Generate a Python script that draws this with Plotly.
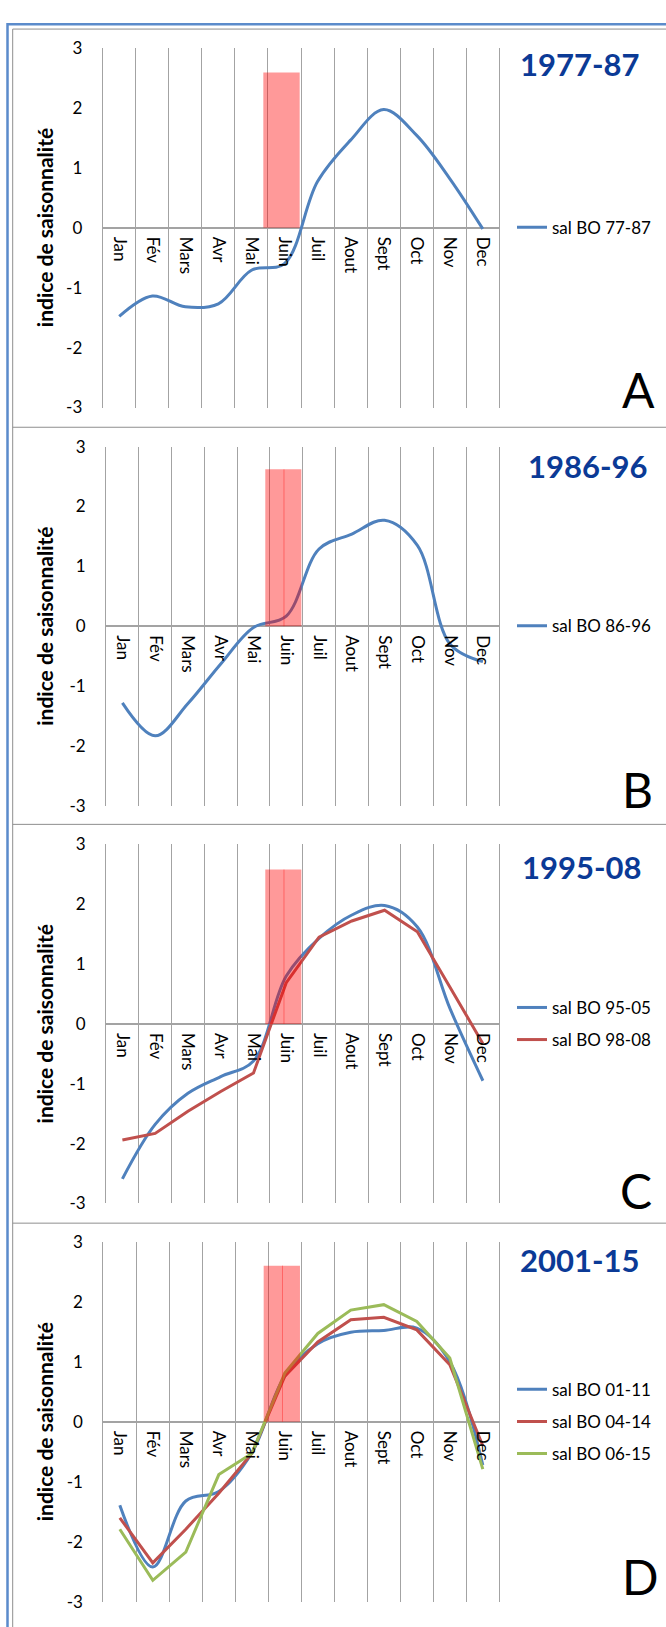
import plotly.graph_objects as go

W, H = 666, 1627

months = ["Jan", "Fév", "Mars", "Avr", "Mai", "Juin", "Juil", "Aout", "Sept", "Oct", "Nov", "Dec"]
y_ticks = [-3, -2, -1, 0, 1, 2, 3]
y_ticklabels = ["-3", "-2", "-1", "0", "1", "2", "3"]

sal_77_87 = [-1.48, -1.14, -1.32, -1.27, -0.71, -0.60, 0.77, 1.46, 1.97, 1.54, 0.82, -0.02]
sal_86_96 = [-1.28, -1.83, -1.29, -0.63, -0.02, 0.17, 1.29, 1.54, 1.77, 1.35, -0.30, -0.59]
sal_95_05 = [-2.59, -1.68, -1.16, -0.88, -0.62, 0.80, 1.43, 1.82, 1.98, 1.62, 0.25, -0.95]
sal_98_08 = [-1.94, -1.83, -1.46, -1.13, -0.82, 0.69, 1.45, 1.72, 1.90, 1.54, 0.61, -0.33]
sal_01_11 = [-1.39, -2.42, -1.32, -1.16, -0.52, 0.76, 1.30, 1.49, 1.52, 1.56, 1.00, -0.72]
sal_04_14 = [-1.60, -2.35, -1.79, -1.19, -0.53, 0.76, 1.33, 1.70, 1.74, 1.53, 0.95, -0.40]
sal_06_15 = [-1.79, -2.64, -2.17, -0.88, -0.53, 0.81, 1.47, 1.86, 1.95, 1.67, 1.06, -0.79]

period_titles = ["1977-87", "1986-96", "1995-08", "2001-15"]
panel_letters = ["A", "B", "C", "D"]
juin_bar_top = [2.59, 2.62, 2.58, 2.60]

BLUE, RED, GREEN = "#4F81BD", "#C0504D", "#9BBB59"
GRID = "#A3A3A3"
FONT = "Lato, Open Sans, sans-serif"

panels = [
    dict(series=[("sal BO 77-87", sal_77_87, BLUE, "spline")],
         x0=102.7, x1=499.3, top=37.3, bot=401.7,
         tx=579.5, ty=53.3, lx=638, ly=383.5, center_line=False),
    dict(series=[("sal BO 86-96", sal_86_96, BLUE, "spline")],
         x0=106, x1=499.3, top=441.3, bot=805.3,
         tx=587, ty=461, lx=637, ly=789, center_line=True),
    dict(series=[("sal BO 95-05", sal_95_05, BLUE, "spline"),
                 ("sal BO 98-08", sal_98_08, RED, "linear")],
         x0=106, x1=499.3, top=844.3, bot=1208,
         tx=581.5, ty=866.7, lx=636, ly=1194.5, center_line=True),
    dict(series=[("sal BO 01-11", sal_01_11, BLUE, "spline"),
                 ("sal BO 04-14", sal_04_14, RED, "linear"),
                 ("sal BO 06-15", sal_06_15, GREEN, "linear")],
         x0=103.3, x1=499.3, top=1246.7, bot=1611.7,
         tx=579.5, ty=1265, lx=640, ly=1586, center_line=True),
]


def px_x(v):
    return v / W


def px_y(v):
    return 1 - v / H


fig = go.Figure()
annotations = []
shapes = []
layout = {}

juin_idx = months.index("Juin")

for i, p in enumerate(panels):
    n = "" if i == 0 else str(i + 1)
    xa, ya = "x" + n, "y" + n
    leg = "legend" if i == 0 else "legend" + str(i + 1)
    for name, vals, col, shape in p["series"]:
        fig.add_trace(go.Scatter(
            x=months, y=vals, name=name, mode="lines",
            line=dict(color=col, width=3, shape=shape, smoothing=1),
            xaxis=xa, yaxis=ya, legend=leg, legendgroup=name,
            hoverinfo="skip"))
    zero_paper = px_y((p["top"] + p["bot"]) / 2)
    layout["xaxis" + n] = dict(
        domain=[px_x(p["x0"]), px_x(p["x1"])], anchor="free", position=zero_paper,
        type="category", categoryorder="array", categoryarray=months,
        range=[-0.5, len(months) - 0.5], tickson="boundaries",
        showgrid=True, gridcolor=GRID, gridwidth=1, ticks="",
        tickangle=90, tickfont=dict(family=FONT, size=17, color="#000000"),
        ticklabelstandoff=8, showline=False, zeroline=False, fixedrange=True)
    layout["yaxis" + n] = dict(
        domain=[px_y(p["bot"]), px_y(p["top"])], anchor=xa,
        range=[-3, 3], tickvals=y_ticks, ticktext=y_ticklabels,
        showgrid=False, zeroline=True, zerolinecolor=GRID, zerolinewidth=2,
        showline=True, linecolor=GRID, linewidth=1, mirror=True,
        ticks="", tickfont=dict(family=FONT, size=17, color="#000000"),
        ticklabelstandoff=16, fixedrange=True)
    layout[leg] = dict(
        x=px_x(512), xanchor="left", y=zero_paper, yanchor="middle",
        bgcolor="rgba(0,0,0,0)", borderwidth=0, tracegroupgap=7,
        font=dict(family=FONT, size=17, color="#000000"),
        itemwidth=30)
    # Juin highlight (semi-transparent, drawn above the lines)
    shapes.append(dict(type="rect", xref=xa, yref=ya, layer="above",
                       x0=juin_idx - 0.64, x1=juin_idx + 0.46,
                       y0=0, y1=juin_bar_top[i],
                       fillcolor="rgba(255,0,0,0.40)", line=dict(width=0)))
    if p["center_line"]:
        shapes.append(dict(type="line", xref=xa, yref=ya, layer="above",
                           x0=juin_idx - 0.07, x1=juin_idx - 0.07,
                           y0=0, y1=juin_bar_top[i],
                           line=dict(color="rgba(255,0,0,0.35)", width=1)))
    annotations.append(dict(text="<b>" + period_titles[i] + "</b>", xref="paper", yref="paper",
                            x=px_x(p["tx"]), y=px_y(p["ty"]), xanchor="center", yanchor="middle",
                            showarrow=False, font=dict(family=FONT, size=31, color="#0B3A96")))
    annotations.append(dict(text=panel_letters[i], xref="paper", yref="paper",
                            x=px_x(p["lx"]), y=px_y(p["ly"]), xanchor="center", yanchor="middle",
                            showarrow=False, font=dict(family=FONT, size=48, color="#000000")))
    annotations.append(dict(text="<b>indice de saisonnalité</b>", xref="paper", yref="paper",
                            x=px_x(44.5), y=zero_paper, xanchor="center", yanchor="middle",
                            textangle=-90, showarrow=False,
                            font=dict(family=FONT, size=21, color="#000000")))

# frames: outer blue border and grey panel borders
shapes.append(dict(type="rect", xref="paper", yref="paper", layer="below",
                   x0=px_x(7.5), x1=px_x(720), y0=px_y(1700), y1=px_y(13.5),
                   line=dict(color="#5B8BCB", width=2.5), fillcolor="rgba(0,0,0,0)"))
shapes.append(dict(type="rect", xref="paper", yref="paper", layer="below",
                   x0=px_x(12.7), x1=px_x(720), y0=px_y(1700), y1=px_y(18.3),
                   line=dict(color="#8E8E8E", width=1), fillcolor="rgba(0,0,0,0)"))
for yb in [421.7, 824, 1228]:
    shapes.append(dict(type="line", xref="paper", yref="paper", layer="below",
                       x0=px_x(12.7), x1=px_x(720), y0=px_y(yb), y1=px_y(yb),
                       line=dict(color="#8E8E8E", width=1)))

fig.update_layout(
    width=W, height=H, autosize=False,
    margin=dict(l=0, r=0, t=0, b=0, pad=0),
    paper_bgcolor="white", plot_bgcolor="white",
    showlegend=True, annotations=annotations, shapes=shapes,
    font=dict(family=FONT),
    **layout)

fig.write_html("out.html")
